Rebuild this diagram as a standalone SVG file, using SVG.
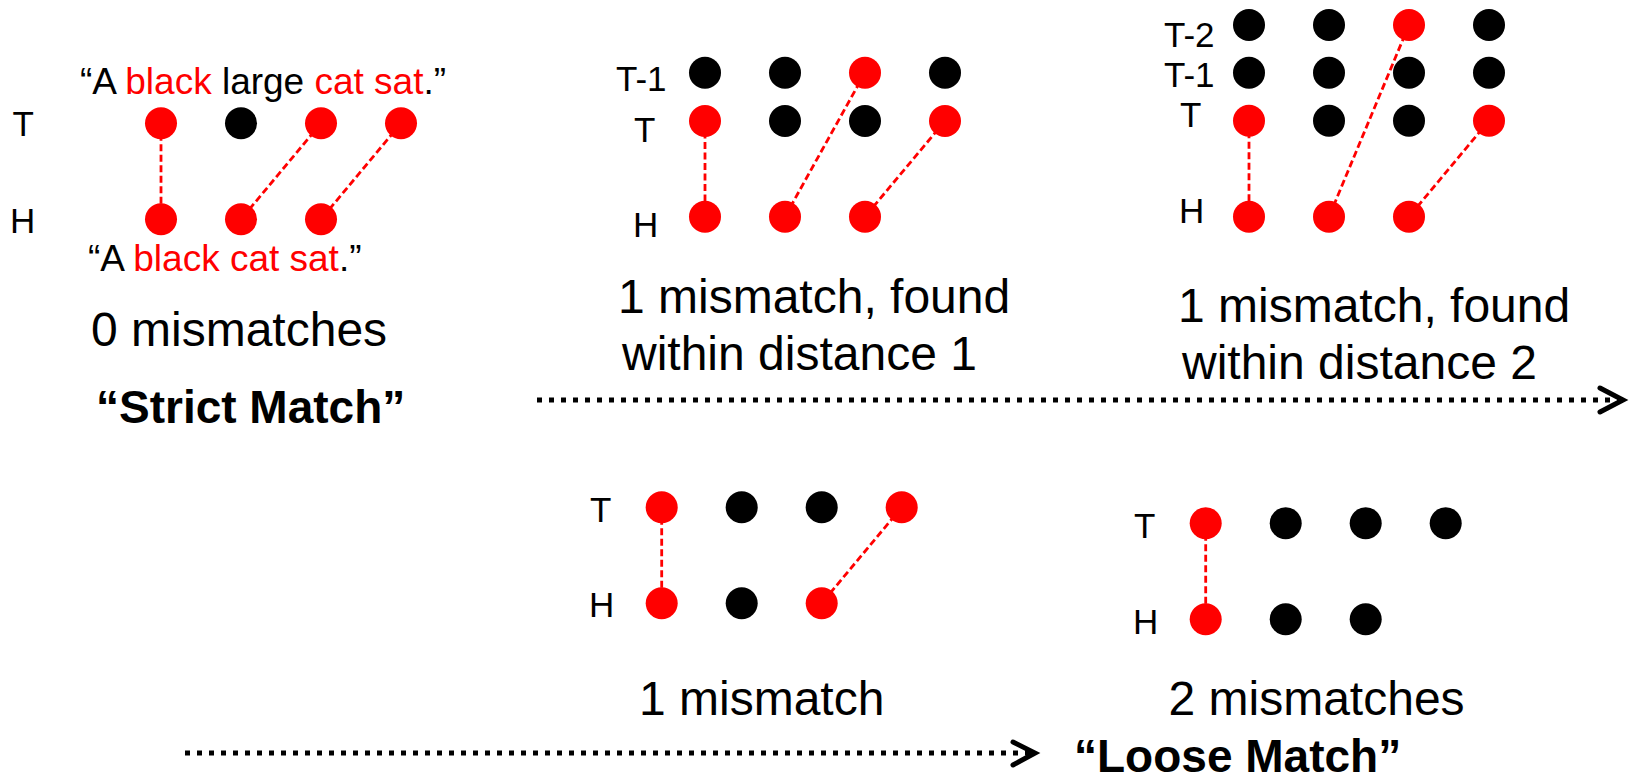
<svg xmlns="http://www.w3.org/2000/svg" width="1632" height="781" viewBox="0 0 1632 781">
  <style>
    text { font-family: "Liberation Sans", Arial, sans-serif; fill: #000; }
    .lbl { font-size: 35px; }
    .quote { font-size: 37px; }
    .red { fill: #FF0000; }
    .desc { font-size: 48px; }
    .title { font-size: 46px; font-weight: bold; }
    .on { fill: #FF0000; }
    .off { fill: #000; }
    .link { stroke: #FF0000; stroke-width: 2.8; stroke-dasharray: 7 3.5; fill: none; }
    .dots { stroke: #000; stroke-width: 5; stroke-dasharray: 5 7; fill: none; }
    .head { stroke: #000; stroke-width: 5; fill: none; stroke-linecap: round; stroke-linejoin: miter; }
  </style>

  <!-- Strict match: exact word alignment -->
  <g id="strict">
    <text class="quote" x="80" y="94.3">“A <tspan class="red">black</tspan> large <tspan class="red">cat sat</tspan>.”</text>
    <text class="lbl" x="12.5" y="136">T</text>
    <text class="lbl" x="10" y="232.7">H</text>
    <circle class="on" cx="161" cy="123.3" r="16"/>
    <circle class="off" cx="241" cy="123.3" r="16"/>
    <circle class="on" cx="321" cy="123.3" r="16"/>
    <circle class="on" cx="401" cy="123.3" r="16"/>
    <circle class="on" cx="161" cy="219.3" r="16"/>
    <circle class="on" cx="241" cy="219.3" r="16"/>
    <circle class="on" cx="321" cy="219.3" r="16"/>
    <text class="quote" x="88" y="270.7">“A <tspan class="red">black cat sat</tspan>.”</text>
    <text class="desc" x="91" y="346">0 mismatches</text>
    <text class="title" x="96" y="423.3">“Strict Match”</text>
  </g>

  <!-- Distance 1 -->
  <g id="dist1">
    <text class="lbl" x="616" y="90.7">T-1</text>
    <text class="lbl" x="634" y="141.7">T</text>
    <text class="lbl" x="633" y="237">H</text>
    <circle class="off" cx="705" cy="72.7" r="16"/>
    <circle class="off" cx="785" cy="72.7" r="16"/>
    <circle class="on" cx="865" cy="72.7" r="16"/>
    <circle class="off" cx="945" cy="72.7" r="16"/>
    <circle class="on" cx="705" cy="121" r="16"/>
    <circle class="off" cx="785" cy="121" r="16"/>
    <circle class="off" cx="865" cy="121" r="16"/>
    <circle class="on" cx="945" cy="121" r="16"/>
    <circle class="on" cx="705" cy="216.7" r="16"/>
    <circle class="on" cx="785" cy="216.7" r="16"/>
    <circle class="on" cx="865" cy="216.7" r="16"/>
    <text class="desc" x="618" y="313">1 mismatch, found</text>
    <text class="desc" x="622" y="370">within distance 1</text>
  </g>

  <!-- Distance 2 -->
  <g id="dist2">
    <text class="lbl" x="1164" y="46.7">T-2</text>
    <text class="lbl" x="1164" y="86.7">T-1</text>
    <text class="lbl" x="1180" y="127.3">T</text>
    <text class="lbl" x="1179" y="222.7">H</text>
    <circle class="off" cx="1249" cy="25" r="16"/>
    <circle class="off" cx="1329" cy="25" r="16"/>
    <circle class="on" cx="1409" cy="25" r="16"/>
    <circle class="off" cx="1489" cy="25" r="16"/>
    <circle class="off" cx="1249" cy="72.7" r="16"/>
    <circle class="off" cx="1329" cy="72.7" r="16"/>
    <circle class="off" cx="1409" cy="72.7" r="16"/>
    <circle class="off" cx="1489" cy="72.7" r="16"/>
    <circle class="on" cx="1249" cy="120.7" r="16"/>
    <circle class="off" cx="1329" cy="120.7" r="16"/>
    <circle class="off" cx="1409" cy="120.7" r="16"/>
    <circle class="on" cx="1489" cy="120.7" r="16"/>
    <circle class="on" cx="1249" cy="216.7" r="16"/>
    <circle class="on" cx="1329" cy="216.7" r="16"/>
    <circle class="on" cx="1409" cy="216.7" r="16"/>
    <text class="desc" x="1178" y="322.3">1 mismatch, found</text>
    <text class="desc" x="1182" y="379">within distance 2</text>
  </g>

  <!-- One mismatch -->
  <g id="mismatch1">
    <text class="lbl" x="590" y="521.7">T</text>
    <text class="lbl" x="589" y="616.7">H</text>
    <circle class="on" cx="661.7" cy="507.3" r="16"/>
    <circle class="off" cx="741.7" cy="507.3" r="16"/>
    <circle class="off" cx="821.7" cy="507.3" r="16"/>
    <circle class="on" cx="901.7" cy="507.3" r="16"/>
    <circle class="on" cx="661.7" cy="603.3" r="16"/>
    <circle class="off" cx="741.7" cy="603.3" r="16"/>
    <circle class="on" cx="821.7" cy="603.3" r="16"/>
    <text class="desc" x="639" y="715">1 mismatch</text>
  </g>

  <!-- Two mismatches -->
  <g id="mismatch2">
    <text class="lbl" x="1134" y="538.3">T</text>
    <text class="lbl" x="1133" y="634">H</text>
    <circle class="on" cx="1205.7" cy="523.3" r="16"/>
    <circle class="off" cx="1285.7" cy="523.3" r="16"/>
    <circle class="off" cx="1365.7" cy="523.3" r="16"/>
    <circle class="off" cx="1445.7" cy="523.3" r="16"/>
    <circle class="on" cx="1205.7" cy="619.3" r="16"/>
    <circle class="off" cx="1285.7" cy="619.3" r="16"/>
    <circle class="off" cx="1365.7" cy="619.3" r="16"/>
    <text class="desc" x="1168.5" y="715">2 mismatches</text>
    <text class="title" x="1074" y="772">“Loose Match”</text>
  </g>

  <!-- Alignment links and progression arrows -->
  <g id="connectors">
    <line class="link" x1="161" y1="123.3" x2="161" y2="219.3"/>
    <line class="link" x1="321" y1="123.3" x2="241" y2="219.3"/>
    <line class="link" x1="401" y1="123.3" x2="321" y2="219.3"/>

    <line class="link" x1="705" y1="121" x2="705" y2="216.7"/>
    <line class="link" x1="865" y1="72.7" x2="785" y2="216.7"/>
    <line class="link" x1="945" y1="121" x2="865" y2="216.7"/>

    <line class="link" x1="1249" y1="120.7" x2="1249" y2="216.7"/>
    <line class="link" x1="1409" y1="25" x2="1329" y2="216.7"/>
    <line class="link" x1="1489" y1="120.7" x2="1409" y2="216.7"/>

    <line class="link" x1="661.7" y1="507.3" x2="661.7" y2="603.3"/>
    <line class="link" x1="901.7" y1="507.3" x2="821.7" y2="603.3"/>

    <line class="link" x1="1205.7" y1="523.3" x2="1205.7" y2="619.3"/>

    <line class="dots" x1="537" y1="400" x2="1620" y2="400"/>
    <polyline class="head" points="1600,388 1623,400 1600,412"/>

    <line class="dots" x1="185" y1="753" x2="1032" y2="753"/>
    <polyline class="head" points="1013,742 1035,753 1013,765"/>
  </g>
</svg>
